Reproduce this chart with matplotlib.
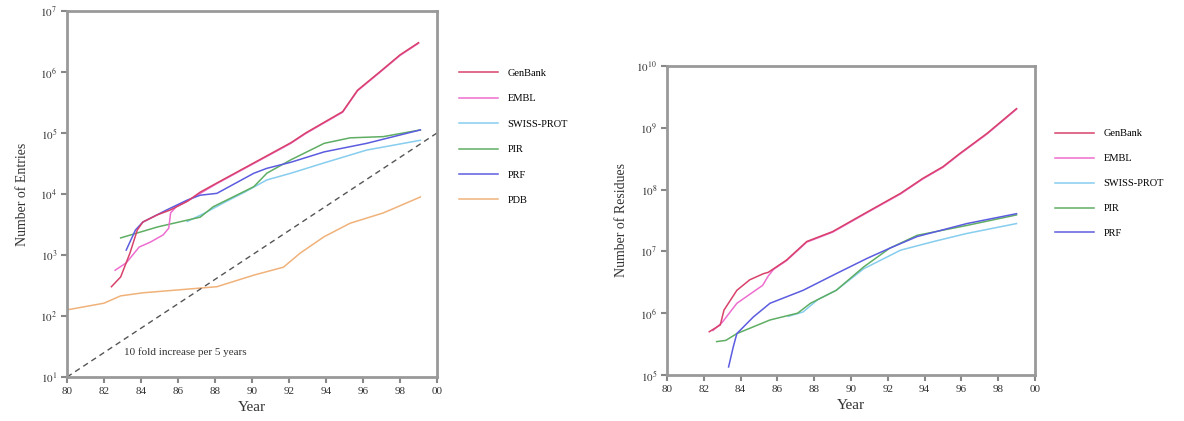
import numpy as np
import matplotlib
matplotlib.use("Agg")
import matplotlib.pyplot as plt

plt.rcParams['font.family'] = ['Liberation Serif', 'DejaVu Serif']
plt.rcParams['mathtext.fontset'] = 'stix'

# ---- Entries (left panel), year / log10 value ----
gb_yr = [1982.4, 1982.9, 1983.4, 1983.8, 1984.1, 1984.9, 1985.6, 1986.5, 1987.2, 1988.1,
         1990.1, 1992.1, 1992.9, 1994.9, 1995.7, 1996.9, 1998.0, 1999.0]
gb_lg = [2.48, 2.64, 3.03, 3.41, 3.54, 3.66, 3.74, 3.88, 4.03, 4.18,
         4.51, 4.84, 5.00, 5.35, 5.70, 6.00, 6.28, 6.48]

embl_yr = [1982.6, 1983.2, 1983.9, 1984.5, 1985.2, 1985.5, 1985.6, 1985.9, 1986.5, 1987.2,
           1988.1, 1990.1, 1992.1, 1992.9, 1994.9, 1995.7, 1996.9, 1998.0, 1999.0]
embl_lg = [2.75, 2.87, 3.13, 3.21, 3.33, 3.44, 3.69, 3.79, 3.88, 4.01,
           4.17, 4.50, 4.83, 4.99, 5.34, 5.69, 5.99, 6.27, 6.47]

sp_yr = [1986.5, 1987.4, 1988.5, 1989.6, 1990.8, 1992.1, 1993.9, 1996.2, 1999.1]
sp_lg = [3.55, 3.68, 3.86, 4.03, 4.23, 4.34, 4.51, 4.72, 4.88]

pir_yr = [1982.9, 1984.9, 1987.2, 1987.9, 1990.1, 1990.8, 1992.1, 1993.9, 1995.3, 1997.1, 1999.1]
pir_lg = [3.28, 3.46, 3.62, 3.79, 4.12, 4.34, 4.56, 4.83, 4.92, 4.94, 5.05]

prf_yr = [1983.2, 1983.7, 1984.1, 1985.4, 1986.5, 1987.2, 1988.1, 1990.1, 1990.8, 1992.1,
          1993.9, 1996.2, 1999.1]
prf_lg = [3.08, 3.41, 3.54, 3.74, 3.90, 3.98, 4.01, 4.34, 4.42, 4.52, 4.69, 4.83, 5.05]

pdb_yr = [1980.0, 1982.0, 1982.9, 1984.1, 1986.1, 1988.1, 1990.1, 1991.7, 1992.6, 1993.9,
          1995.3, 1997.1, 1999.1]
pdb_lg = [2.10, 2.21, 2.33, 2.38, 2.43, 2.48, 2.67, 2.80, 3.03, 3.30, 3.52, 3.69, 3.95]

trend_yr = [1980, 2000]
trend_lg = [1, 5]

# ---- Residues (right panel) ----
rgb_yr = [1982.3, 1982.9, 1983.1, 1983.8, 1984.5, 1985.25, 1985.5, 1985.8, 1986.5, 1987.6,
          1989.0, 1990.9, 1992.7, 1993.9, 1995.0, 1995.9, 1997.4, 1999.0]
rgb_lg = [5.70, 5.81, 6.05, 6.37, 6.54, 6.64, 6.66, 6.72, 6.86, 7.16,
          7.32, 7.64, 7.94, 8.18, 8.37, 8.58, 8.91, 9.31]

rembl_yr = [1982.5, 1983.0, 1983.8, 1985.2, 1985.5, 1985.8, 1986.5, 1987.6, 1989.0, 1990.9,
            1992.7, 1993.9, 1995.0, 1995.9, 1997.4, 1999.0]
rembl_lg = [5.72, 5.85, 6.16, 6.45, 6.60, 6.71, 6.85, 7.15, 7.31, 7.63,
            7.93, 8.17, 8.36, 8.57, 8.90, 9.30]

rsp_yr = [1986.6, 1987.4, 1988.2, 1989.2, 1990.7, 1992.7, 1994.5, 1996.3, 1999.0]
rsp_lg = [5.95, 6.02, 6.22, 6.37, 6.72, 7.02, 7.16, 7.29, 7.45]

rpir_yr = [1982.7, 1983.2, 1983.8, 1985.6, 1987.1, 1987.8, 1989.2, 1990.7, 1992.1, 1993.6,
           1996.3, 1999.0]
rpir_lg = [5.54, 5.56, 5.67, 5.89, 6.00, 6.16, 6.37, 6.75, 7.05, 7.26, 7.42, 7.59]

rprf_yr = [1983.35, 1983.6, 1983.8, 1984.7, 1985.6, 1987.4, 1989.2, 1990.9, 1992.1, 1993.6,
           1996.3, 1999.0]
rprf_lg = [5.13, 5.45, 5.67, 5.94, 6.16, 6.37, 6.64, 6.89, 7.05, 7.24, 7.45, 7.61]

names = ['GenBank', 'EMBL', 'SWISS-PROT', 'PIR', 'PRF', 'PDB']
colors = ['#d8426a', '#ee6ed0', '#86cdee', '#5fae64', '#5c5ce0', '#f0b27a']
zorders = [5, 3, 2, 2, 4, 2]

xticks = list(range(1980, 2001, 2))
xlabels = ['%02d' % (y % 100) for y in xticks]

fig = plt.figure(figsize=(11.84, 4.21), dpi=100)
ax1 = fig.add_axes([0.0566, 0.1045, 0.3125, 0.8695])
ax2 = fig.add_axes([0.5633, 0.1093, 0.3108, 0.734])


def style(ax, ylo, yhi):
    ax.set_yscale('log')
    ax.set_xlim(1980, 2000)
    ax.set_ylim(10 ** ylo, 10 ** yhi)
    ax.set_xticks(xticks)
    ax.set_xticklabels(xlabels)
    ax.set_yticks([10 ** k for k in range(ylo, yhi + 1)])
    ax.set_yticklabels(['$10^{%d}$' % k for k in range(ylo, yhi + 1)])
    ax.minorticks_off()
    ax.tick_params(direction='out', length=4, width=1.5, color='#888888',
                   labelsize=8, labelcolor='#333333', pad=3)
    for s in ax.spines.values():
        s.set_color('#999999')
        s.set_linewidth(2)
    ax.set_xlabel('Year', fontsize=11, color='#333333', labelpad=4)


series1 = [(gb_yr, gb_lg), (embl_yr, embl_lg), (sp_yr, sp_lg),
           (pir_yr, pir_lg), (prf_yr, prf_lg), (pdb_yr, pdb_lg)]
for (x, y), n, c, z in zip(series1, names, colors, zorders):
    ax1.plot(x, 10 ** np.array(y), color=c, lw=1.1, label=n, zorder=z)
ax1.plot(trend_yr, 10 ** np.array(trend_lg), color='#555555', lw=1, ls=(0, (4, 3)))
ax1.text(1983.1, 10 ** 1.41, '10 fold increase per 5 years', fontsize=8, color='#333333',
         va='center')
style(ax1, 1, 7)
ax1.set_ylabel('Number of Entries', fontsize=10, color='#333333', labelpad=8)
ax1.legend(loc='upper left', bbox_to_anchor=(1.035, 0.868), frameon=False, fontsize=7.5,
           handlelength=3.7, labelspacing=1.55, handletextpad=0.9)

series2 = [(rgb_yr, rgb_lg), (rembl_yr, rembl_lg), (rsp_yr, rsp_lg),
           (rpir_yr, rpir_lg), (rprf_yr, rprf_lg)]
for (x, y), n, c, z in zip(series2, names[:5], colors[:5], zorders[:5]):
    ax2.plot(x, 10 ** np.array(y), color=c, lw=1.1, label=n, zorder=z)
style(ax2, 5, 10)
ax2.set_ylabel('Number of Residues', fontsize=10, color='#333333', labelpad=6)
ax2.legend(loc='upper left', bbox_to_anchor=(1.03, 0.826), frameon=False, fontsize=7.5,
           handlelength=3.7, labelspacing=1.5, handletextpad=0.9)

fig.savefig('out.png', dpi=100)
